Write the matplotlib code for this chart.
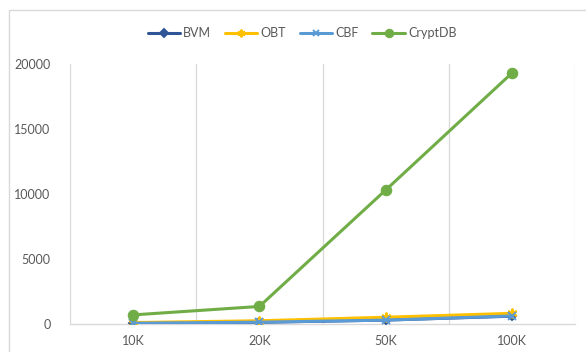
import matplotlib
matplotlib.use("Agg")
import matplotlib.pyplot as plt
from matplotlib.patches import Rectangle
import numpy as np

plt.rcParams['font.family'] = ['Lato', 'DejaVu Sans']

categories = ["10K", "20K", "50K", "100K"]
bvm = [60, 130, 300, 600]
obt = [110, 250, 520, 820]
cbf = [60, 140, 300, 620]
cryptdb = [700, 1350, 10300, 19300]

series = [
    ("BVM", bvm, "#2F5597", "D", 4.5),
    ("OBT", obt, "#FFC000", (6, 2, 0), 7),
    ("CBF", cbf, "#5B9BD5", "x", 5.5),
    ("CryptDB", cryptdb, "#70AD47", "o", 7.5),
]

fig = plt.figure(figsize=(5.86, 3.52), dpi=100)
W, H = 586, 352

# chart frame
fig.patches.append(Rectangle((9 / W, -0.1), 1.2, 1 - 10 / H + 0.1,
                             transform=fig.transFigure, fill=False,
                             edgecolor="#D9D9D9", linewidth=1.0))

ax = fig.add_axes([70 / W, 1 - 324 / H, (575 - 70) / W, (324 - 64) / H])
x = np.arange(len(categories))

for name, vals, color, marker, ms in series:
    ax.plot(x, vals, color=color, linewidth=2.2, marker=marker,
            markersize=ms, markeredgewidth=1.4 if marker != "o" else 0.8,
            label=name, solid_capstyle="round", zorder=3)

ax.set_xlim(-0.5, len(categories) - 0.5)
ax.set_ylim(0, 20000)
ax.set_yticks([0, 5000, 10000, 15000, 20000])
ax.set_xticks(x)
ax.set_xticklabels(categories)

# vertical gridlines between categories
for b in np.arange(-0.5, len(categories), 1.0):
    ax.axvline(b, color="#D9D9D9", linewidth=0.9, zorder=1)

for s in ["top", "right", "left"]:
    ax.spines[s].set_visible(False)
ax.spines["bottom"].set_color("#D9D9D9")
ax.spines["bottom"].set_linewidth(1.0)

ax.tick_params(axis="both", length=0, labelsize=9, colors="#595959")
ax.tick_params(axis="x", pad=8)
ax.tick_params(axis="y", pad=14)

handles, labels = ax.get_legend_handles_labels()
fig.legend(handles, labels, loc="center", bbox_to_anchor=(302 / W, 1 - 33 / H),
           ncol=4, frameon=False, fontsize=9, handlelength=2.6,
           columnspacing=1.1, handletextpad=0.25, labelcolor="#595959",
           markerscale=0.8)

fig.savefig("out.png", dpi=100)
